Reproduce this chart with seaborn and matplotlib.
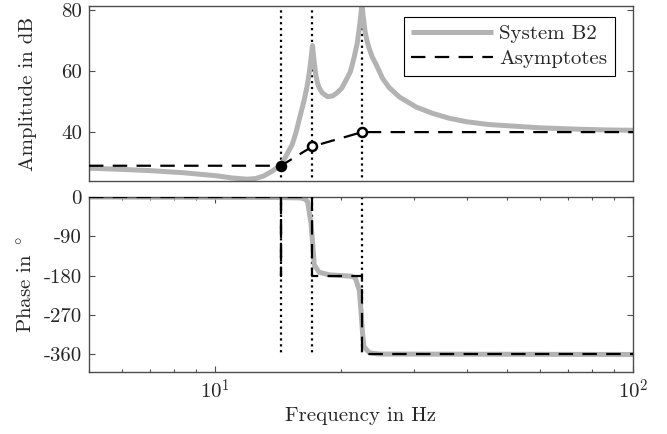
import numpy as np
import pandas as pd
import matplotlib
matplotlib.use("Agg")
import matplotlib.pyplot as plt
from matplotlib.ticker import LogLocator, NullFormatter, FixedLocator
import seaborn as sns

# ---------------- data ----------------
amp_freq = [5.0, 6.0, 7.0, 8.43, 10.11, 11.0, 11.93, 12.5, 13.11, 13.7,
            14.40, 14.78, 15.05, 15.30, 15.62, 15.90, 16.17, 16.35, 16.62, 16.81,
            16.94, 17.12, 17.28, 17.44, 17.60, 17.76, 18.07, 18.59, 19.10, 19.50,
            20.10, 20.58, 21.10, 21.54, 21.90, 22.15, 22.33, 22.48, 22.65, 22.89,
            23.15, 23.40, 23.80, 24.29, 25.20, 26.10, 27.62, 30.29, 33.20, 36.41,
            39.93, 45.0, 49.8, 59.8, 71.8, 86.5, 100.0]
amp_db = [28.2, 27.8, 27.4, 26.7, 25.7, 25.0, 24.6, 24.8, 25.7, 27.2,
          29.3, 32.0, 34.1, 35.8, 39.7, 43.9, 47.8, 50.4, 55.0, 59.2,
          62.8, 68.3, 63.0, 58.5, 56.0, 54.5, 52.8, 51.6, 51.8, 52.6,
          54.3, 56.9, 59.8, 64.5, 69.0, 74.0, 78.0, 82.0, 77.5, 72.5,
          69.5, 67.3, 64.5, 62.2, 57.5, 54.6, 51.5, 48.2, 46.1, 44.5,
          43.4, 42.5, 42.1, 41.4, 41.0, 40.7, 40.6]

phase_freq = [5.0, 14.0, 16.0, 16.35, 16.66, 16.98, 17.12, 17.28, 17.76, 18.8,
              21.2, 21.68, 22.15, 22.40, 22.55, 22.73, 23.4, 24.7, 100.0]
phase_deg = [0, -1, -2, -4, -10, -60, -100, -155, -172, -178,
             -181, -185, -213, -270, -310, -342, -356, -359, -360]

asym_freq = [5.0, 14.4, 17.1, 22.5, 100.0]
asym_db = [29.0, 29.0, 35.3, 40.0, 40.0]

asym_phase_freq = [5.0, 14.4, 14.4, 14.4, 17.1, 17.1, 22.5, 22.5, 100.0]
asym_phase_deg = [0, 0, -180, 0, 0, -180, -180, -360, -360]

corner_freq = [14.4, 17.1, 22.5]
corner_db = [29.0, 35.3, 40.0]

amp_ticks = [40, 60, 80]
phase_ticks = [0, -90, -180, -270, -360]
phase_ticklabels = ["0", "-90", "-180", "-270", "-360"]

# ---------------- style ----------------
sns.set_theme(style="white")
plt.rcParams["font.family"] = ["cmr10", "DejaVu Serif"]
plt.rcParams["mathtext.fontset"] = "cm"
plt.rcParams["axes.unicode_minus"] = False
plt.rcParams["axes.formatter.use_mathtext"] = True

FS = 15
GRAY = "#b3b3b3"
SPINE = "#4d4d4d"

fig, (ax1, ax2) = plt.subplots(2, 1, figsize=(6.67, 4.34), dpi=100)
fig.subplots_adjust(left=0.1334, right=0.949, top=0.986, bottom=0.1429, hspace=0.0914)

amp_df = pd.DataFrame({"f": amp_freq, "a": amp_db})
asym_df = pd.DataFrame({"f": asym_freq, "a": asym_db})
ph_df = pd.DataFrame({"f": phase_freq, "p": phase_deg})
aph_df = pd.DataFrame({"f": asym_phase_freq, "p": asym_phase_deg})

DASH = (0, (6.5, 4.2))

# ---- amplitude ----
for fc in corner_freq:
    ax1.plot([fc, fc], [0, 100], color="black", linestyle=":", lw=1.6, zorder=1)
sns.lineplot(data=amp_df, x="f", y="a", ax=ax1, color=GRAY, lw=3.6,
             estimator=None, sort=False, label="System B2", zorder=2,
             solid_joinstyle="round", solid_capstyle="butt")
sns.lineplot(data=asym_df, x="f", y="a", ax=ax1, color="black", lw=1.6,
             linestyle=DASH, estimator=None, sort=False, label="Asymptotes", zorder=3)
sns.scatterplot(x=corner_freq[:1], y=corner_db[:1], ax=ax1, marker="o", s=42,
                facecolor="black", edgecolor="black", linewidth=1.8, zorder=4)
sns.scatterplot(x=corner_freq[1:], y=corner_db[1:], ax=ax1, marker="o", s=42,
                facecolor="white", edgecolor="black", linewidth=1.8, zorder=4)

ax1.set_xscale("log")
ax1.set_xlim(5, 100)
ax1.set_ylim(24.0, 81.2)
ax1.set_yticks(amp_ticks)
ax1.set_yticklabels([str(t) for t in amp_ticks])
ax1.set_xticks([])
ax1.xaxis.set_minor_locator(FixedLocator([]))
ax1.set_xlabel("")
ax1.set_ylabel("Amplitude in dB", fontsize=FS, labelpad=17)

leg = ax1.legend(loc="upper right", bbox_to_anchor=(0.967, 0.939), borderaxespad=0,
                 fontsize=FS, frameon=True, fancybox=False, framealpha=1,
                 edgecolor="black", handlelength=3.9, handletextpad=0.3,
                 borderpad=0.38, labelspacing=0.3)
leg.get_frame().set_linewidth(0.8)

# ---- phase ----
for fc in corner_freq:
    ax2.plot([fc, fc], [0, -360], color="black", linestyle=":", lw=1.6, zorder=1)
sns.lineplot(data=ph_df, x="f", y="p", ax=ax2, color=GRAY, lw=3.6,
             estimator=None, sort=False, zorder=2, solid_joinstyle="round")
sns.lineplot(data=aph_df, x="f", y="p", ax=ax2, color="black", lw=1.6,
             linestyle=DASH, estimator=None, sort=False, zorder=3)
ax2.set_xscale("log")
ax2.set_xlim(5, 100)
ax2.set_ylim(-400, 0)
ax2.set_yticks(phase_ticks)
ax2.set_yticklabels(phase_ticklabels)
ax2.xaxis.set_major_locator(FixedLocator([10, 100]))
ax2.set_xticklabels([r"$10^{1}$", r"$10^{2}$"])
ax2.xaxis.set_minor_locator(LogLocator(base=10, subs=np.arange(2, 10)))
ax2.xaxis.set_minor_formatter(NullFormatter())
ax2.set_xlabel("Frequency in Hz", fontsize=FS, labelpad=3)
ax2.set_ylabel(r"Phase in $^\circ$", fontsize=FS, labelpad=5)
if ax2.get_legend() is not None:
    ax2.get_legend().remove()

for ax in (ax1, ax2):
    for sp in ax.spines.values():
        sp.set_color(SPINE)
        sp.set_linewidth(1.0)
        sp.set_visible(True)
    ax.tick_params(which="major", direction="in", length=4, width=0.8, color=SPINE,
                   labelsize=FS, top=True, right=True, bottom=True, left=True, pad=5)
    ax.tick_params(which="minor", direction="in", length=2.5, width=0.8, color=SPINE,
                   top=True, bottom=True)
    ax.set_facecolor("white")
ax1.tick_params(which="both", top=False, bottom=False)

fig.savefig("out.png", dpi=100, facecolor="white")
